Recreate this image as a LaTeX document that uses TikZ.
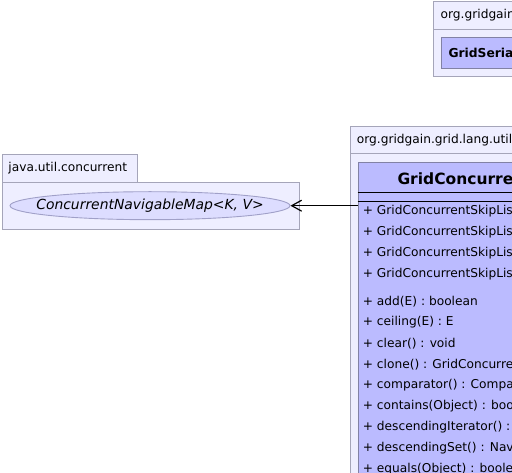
\documentclass[tikz,border=0pt]{standalone}
\usepackage{fontspec}
\setmainfont{DejaVu Sans}
\usetikzlibrary{arrows.meta,shapes.geometric}
\definecolor{pkgfill}{RGB}{238,238,255}
\definecolor{pkgline}{RGB}{165,165,185}
\definecolor{clsfill}{RGB}{187,187,255}
\definecolor{clsline}{RGB}{130,130,165}
\definecolor{ellfill}{RGB}{221,221,255}
\definecolor{ellline}{RGB}{160,160,200}
\tikzset{
  pkgbox/.style={draw=pkgline, fill=pkgfill, line width=0.9pt, inner sep=0pt, anchor=north west},
  clsbox/.style={draw=clsline, fill=clsfill, line width=0.9pt, inner sep=0pt, anchor=north west},
  txt/.style={anchor=west, inner sep=0pt, font=\fontsize{12.2}{14}\selectfont},
  row/.style={txt},
  sepline/.style={draw=black, line width=0.9pt},
}
\begin{document}
\begin{tikzpicture}[x=1pt,y=-1pt]
\useasboundingbox (0,0) rectangle (512,473);
\clip (0,0) rectangle (512,473);
% top-right package
\node[pkgbox, minimum width=100pt, minimum height=27.5pt] (p1h) at (432.5,1.5) {};
\node[pkgbox, minimum width=100pt, minimum height=47pt] (p1b) at (432.5,29) {};
\node[txt] (p1l) at (440.5,15.5) {org.gridgain};
\node[clsbox, minimum width=90pt, minimum height=31pt] (c1) at (440.5,37) {};
\node[txt, font=\bfseries\fontsize{12.3}{14}\selectfont] (c1t) at (448.3,52.5) {GridSeria};
% middle package
\node[pkgbox, minimum width=180pt, minimum height=26.5pt] (p2h) at (349.5,126.5) {};
\node[pkgbox, minimum width=180pt, minimum height=340pt] (p2b) at (349.5,153) {};
\node[txt] (p2l) at (356.7,140) {org.gridgain.grid.lang.util};
\node[clsbox, minimum width=170pt, minimum height=330pt] (cls) at (357.5,162.5) {};
\node[txt, font=\bfseries\fontsize{15.5}{18}\selectfont] (clst) at (397.3,178.5) {GridConcurre};
\draw[sepline] (357.5,192.7) -- (530,192.7);
\draw[sepline] (357.5,201.7) -- (530,201.7);
\node[row] (k1) at (362.7,211.5) {+ GridConcurrentSkipList};
\node[row] (k2) at (362.7,232.5) {+ GridConcurrentSkipList};
\node[row] (k3) at (362.7,253.5) {+ GridConcurrentSkipList};
\node[row] (k4) at (362.7,274.5) {+ GridConcurrentSkipList};
\node[row] (m1) at (362.7,301.5) {+ add(E) : boolean};
\node[row] (m2) at (362.7,322.4) {+ ceiling(E) : E};
\node[row] (m3) at (362.7,343.3) {+ clear() : void};
\node[row] (m4) at (362.7,364.2) {+ clone() : GridConcurre};
\node[row] (m5) at (362.7,385.1) {+ comparator() : Compa};
\node[row] (m6) at (362.7,406.0) {+ contains(Object) : boo};
\node[row] (m7) at (362.7,426.9) {+ descendingIterator() :};
\node[row] (m8) at (362.7,447.8) {+ descendingSet() : Nav};
\node[row] (m9) at (362.7,468.7) {+ equals(Object) : boole};
% left package
\node[pkgbox, minimum width=135pt, minimum height=27.5pt] (p3h) at (1.5,154.5) {};
\node[pkgbox, minimum width=297.5pt, minimum height=47.5pt] (p3b) at (1.5,182) {};
\node[txt] (p3l) at (8.3,168) {java.util.concurrent};
\node[ellipse, draw=ellline, fill=ellfill, line width=0.9pt, minimum width=280pt, minimum height=28pt, inner sep=0pt] (ell) at (150,205.7) {};
\node[inner sep=0pt, font=\itshape\fontsize{13.9}{16}\selectfont] (ellt) at (ell.center) {ConcurrentNavigableMap<K, V>};
% connector
\draw[line width=1pt, -{Straight Barb[length=10pt,width=11pt,line width=1.2pt]}] (cls.west |- ell.east) -- (ell.east);
\end{tikzpicture}
\end{document}
